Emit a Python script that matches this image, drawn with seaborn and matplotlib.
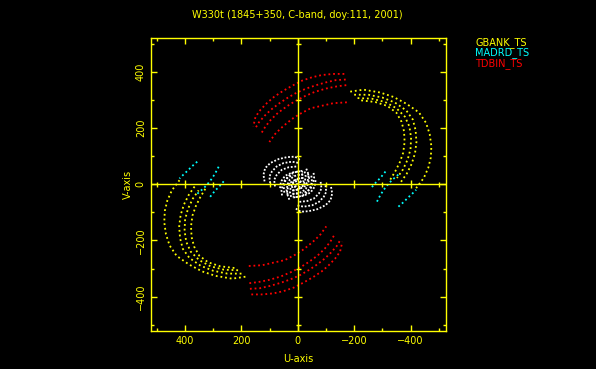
import numpy as np
import pandas as pd
import matplotlib
matplotlib.use("Agg")
import matplotlib.pyplot as plt
import seaborn as sns

# uv coverage, W330t experiment
TITLE = "W330t (1845+350, C-band, doy:111, 2001)"
STATIONS = ["GBANK_TS", "MADRD_TS", "TDBIN_TS"]
COLORS = {"GBANK_TS": "#ffff00", "MADRD_TS": "#00ffff",
          "TDBIN_TS": "#ff0000", "array": "#ffffff"}

# tracks (u, v) in km; conjugate points are added below
gbank_tracks = [
    [(-186, 329), (-233, 336), (-292, 326), (-340, 310), (-387, 285), (-430, 255), (-455, 218),
     (-468, 178), (-474, 135), (-472, 95), (-463, 58), (-447, 22), (-420, -14)],
    [(-200, 318), (-250, 318), (-300, 308), (-345, 290), (-385, 262), (-408, 230), (-418, 192),
     (-421, 150), (-416, 110), (-404, 72), (-387, 38), (-366, 8)],
    [(-212, 306), (-262, 304), (-310, 292), (-350, 270), (-380, 240), (-396, 205), (-402, 165),
     (-400, 125), (-390, 88), (-373, 52), (-352, 22)],
    [(-225, 298), (-275, 292), (-318, 278), (-350, 254), (-368, 222), (-377, 188), (-379, 150),
     (-374, 112), (-362, 78), (-346, 46), (-328, 16)],
]
madrd_tracks = [
    [(-263, -10), (-272, 0), (-280, 10), (-292, 21), (-304, 36), (-312, 46)],
    [(-281, -62), (-288, -48), (-296, -34), (-305, -20), (-314, -8), (-324, 4), (-336, 16),
     (-350, 28), (-363, 40)],
    [(-357, -80), (-375, -64), (-391, -48), (-408, -32), (-420, -20)],
]
tdbin_tracks = [
    [(-165, 392), (-125, 392), (-85, 388), (-50, 380), (-15, 368), (20, 350), (55, 330),
     (85, 310), (110, 288), (132, 265), (150, 240), (158, 205)],
    [(-170, 372), (-135, 370), (-100, 362), (-65, 352), (-30, 340), (5, 325), (38, 306),
     (68, 286), (95, 265), (118, 243), (138, 220), (150, 200)],
    [(-172, 352), (-140, 348), (-100, 340), (-60, 328), (-25, 313), (10, 295), (40, 276),
     (70, 254), (95, 230), (115, 205), (130, 180)],
    [(-174, 291), (-126, 288), (-91, 280), (-46, 270), (-6, 249), (16, 235), (39, 217),
     (60, 199), (81, 178), (101, 150)],
]
array_tracks = [
    [(118, 10), (122, 33), (116, 57), (98, 75), (69, 89), (39, 96), (10, 98), (-8, 86)],
    [(98, 4), (101, 27), (92, 45), (75, 63), (51, 75), (21, 80), (-6, 75)],
    [(81, -8), (84, 15), (75, 33), (57, 51), (33, 60), (4, 63)],
    [(63, -14), (60, 9), (45, 30), (21, 41), (0, 45)],
    [(56, -40), (58, -22), (54, -4), (46, 14), (32, 26), (16, 32)],
    [(48, -30), (50, -10), (45, 10), (35, 28), (18, 40), (-2, 46), (-18, 44)],
    [(36, -38), (40, -20), (36, 0), (28, 17), (14, 28), (-4, 34), (-20, 34)],
    [(30, -55), (36, -40), (38, -24), (34, -8), (26, 6), (12, 14), (-4, 18)],
    [(24, -45), (28, -28), (25, -10), (18, 6), (6, 16), (-10, 22), (-24, 22)],
    [(12, -50), (16, -34), (14, -18), (8, -4), (-4, 6), (-18, 10), (-30, 10)],
    [(0, -48), (4, -36), (2, -22), (-6, -10), (-18, -2), (-32, 0)],
]

MAJOR = [-400, -200, 0, 200, 400]
MINOR = [-500, -300, -100, 100, 300, 500]


def to_frame(name, tracks):
    rows = []
    for i, trk in enumerate(tracks):
        for u, v in trk:
            rows.append((name, f"{name}_{i}", u, v))
        for u, v in trk:  # conjugate visibility
            rows.append((name, f"{name}_{i}c", -u, -v))
    return pd.DataFrame(rows, columns=["station", "track", "u", "v"])


sns.set_theme(style="ticks")
plt.rcParams["font.family"] = ["DejaVu Sans"]
yel = "#ffff00"

fig = plt.figure(figsize=(5.96, 3.69), dpi=100, facecolor="black")
ax = fig.add_axes([0.2529, 0.103, 0.495, 0.795], facecolor="black")

for name, tracks in [("array", array_tracks), ("GBANK_TS", gbank_tracks),
                     ("MADRD_TS", madrd_tracks), ("TDBIN_TS", tdbin_tracks)]:
    df = to_frame(name, tracks)
    dash = (0, (1, 1.0)) if name == "array" else (0, (1, 1.6))
    sns.lineplot(data=df, x="u", y="v", units="track", estimator=None, sort=False,
                 color=COLORS[name], linestyle=dash, lw=1.3, legend=False, ax=ax)

# crosshair through the origin with its own ticks
ax.axhline(0, color=yel, lw=1)
ax.axvline(0, color=yel, lw=1)
maj = [t for t in MAJOR if t != 0]
ax.plot(maj, [0] * len(maj), ls="none", marker="|", ms=6, mew=1, color=yel)
ax.plot([0] * len(maj), maj, ls="none", marker="_", ms=6, mew=1, color=yel)
ax.plot(MINOR, [0] * len(MINOR), ls="none", marker="|", ms=3.6, mew=1, color=yel)
ax.plot([0] * len(MINOR), MINOR, ls="none", marker="_", ms=3.6, mew=1, color=yel)

ax.set_xlim(522, -525)
ax.set_ylim(-522, 521)
ax.set_xticks(MAJOR)
ax.set_yticks(MAJOR)
ax.set_xticks(MINOR, minor=True)
ax.set_yticks(MINOR, minor=True)
for s in ax.spines.values():
    s.set_color(yel)
    s.set_linewidth(1)
ax.tick_params(which="both", direction="in", top=True, right=True, colors=yel,
               labelsize=7, width=1)
ax.tick_params(which="major", length=4.5, pad=3.5)
ax.tick_params(which="minor", length=2.5)
for lab in ax.get_yticklabels():
    lab.set_rotation(90)
    lab.set_va("center")

ax.set_xlabel("U-axis", color=yel, fontsize=7, va="center")
ax.set_ylabel("V-axis", color=yel, fontsize=7, va="center")
ax.xaxis.set_label_coords(0.5, -0.095)
ax.yaxis.set_label_coords(-0.077, 0.5)

fig.text(0.4992, 0.958, TITLE, color=yel, fontsize=7, ha="center", va="center")
for i, st in enumerate(STATIONS):
    fig.text(0.797, 0.886 - i * 0.029, st, color=COLORS[st], fontsize=7,
             ha="left", va="center")

fig.savefig("out.png", dpi=100, facecolor="black")
